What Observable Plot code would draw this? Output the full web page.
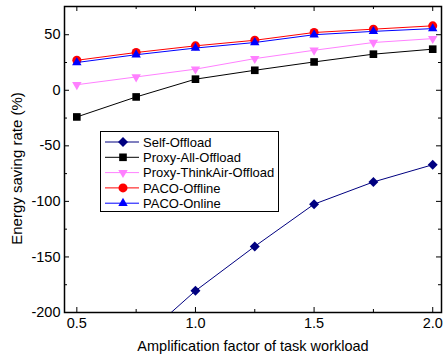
<!DOCTYPE html>
<html>
<head>
<meta charset="utf-8">
<script src="https://cdn.jsdelivr.net/npm/d3@7"></script>
<script src="https://cdn.jsdelivr.net/npm/@observablehq/plot@0.6"></script>
<style>
  html, body { margin: 0; padding: 0; background: #fff; }
  #chart { position: relative; width: 443px; height: 358px; }
</style>
</head>
<body>
<div id="chart"></div>
<script>
// Workload amplification factors (x) and energy saving rate per scheme (%)
const factors = [0.5, 0.75, 1.0, 1.25, 1.5, 1.75, 2.0];
const selfOffload = [null, -228, -180.5, -140.5, -102.5, -82.5, -67];
const proxyAllOffload = [-24, -6, 10, 18, 25.5, 32.5, 37];
const proxyThinkAirOffload = [5, 12, 19, 28.5, 36, 43, 46.5];
const pacoOffline = [27, 34, 40, 45, 52, 55, 58];
const pacoOnline = [25, 32, 38, 43, 50, 53, 55.5];

const xTicks = [0.5, 1.0, 1.5, 2.0];
const xMinorTicks = [0.75, 1.25, 1.75];
const yTicks = [-200, -150, -100, -50, 0, 50];
const yMinorTicks = [-175, -125, -75, -25, 25];

const xLabel = "Amplification factor of task workload";
const yLabel = "Energy saving rate (%)";

// Downward-pointing triangle symbol
const triangleDown = {
  draw(context, size) {
    const s3 = Math.sqrt(3);
    const y = Math.sqrt(size / (s3 * 3));
    context.moveTo(0, y * 2);
    context.lineTo(-s3 * y, -y);
    context.lineTo(s3 * y, -y);
    context.closePath();
  }
};

const series = [
  {name: "Self-Offload", values: selfOffload, color: "#000080", symbol: d3.symbolDiamond2, r: 4.5},
  {name: "Proxy-All-Offload", values: proxyAllOffload, color: "#000000", symbol: d3.symbolSquare, r: 4.3},
  {name: "Proxy-ThinkAir-Offload", values: proxyThinkAirOffload, color: "#FF80FF", symbol: triangleDown, r: 3.5},
  {name: "PACO-Offline", values: pacoOffline, color: "#FF0000", symbol: d3.symbolCircle, r: 4.5},
  {name: "PACO-Online", values: pacoOnline, color: "#0000FF", symbol: d3.symbolTriangle, r: 3.5}
];

const rows = series.map(s =>
  factors.map((x, i) => ({x, y: s.values[i]})).filter(d => d.y != null)
);

const font = "'Liberation Sans', Arial, Helvetica, sans-serif";

const marks = [];
// Inward ticks on all four sides
const innerH = 358 - 6 - 46;
const innerW = 443 - 64 - 2;
const major = 5, minor = 3;
for (const [t, len] of [[xTicks, major], [xMinorTicks, minor]]) {
  marks.push(Plot.tickX(t, {x: d => d, insetTop: innerH - len, stroke: "black", strokeWidth: 1}));
  marks.push(Plot.tickX(t, {x: d => d, insetBottom: innerH - len, stroke: "black", strokeWidth: 1}));
}
for (const [t, len] of [[yTicks, major], [yMinorTicks, minor]]) {
  marks.push(Plot.tickY(t, {y: d => d, insetRight: innerW - len, stroke: "black", strokeWidth: 1}));
  marks.push(Plot.tickY(t, {y: d => d, insetLeft: innerW - len, stroke: "black", strokeWidth: 1}));
}

series.forEach((s, k) => {
  marks.push(Plot.line(rows[k], {x: "x", y: "y", stroke: s.color, strokeWidth: 1, clip: true}));
  marks.push(Plot.dot(rows[k], {x: "x", y: "y", symbol: () => s.symbol, r: s.r, fill: s.color, stroke: "none", clip: true}));
});

marks.push(
  Plot.axisX(xTicks, {tickSize: 0, tickPadding: 5, tickFormat: d => d.toFixed(1), fontSize: 14.5, label: null, fill: "black"}),
  Plot.axisY(yTicks, {tickSize: 0, tickPadding: 4, tickFormat: d => `${d}`, fontSize: 14.5, label: null, fill: "black"}),
  Plot.text([xLabel], {text: d => d, frameAnchor: "bottom", lineAnchor: "middle", textAnchor: "middle", dy: 34, fontSize: 14.5, fill: "black"}),
  Plot.text([yLabel], {text: d => d, frameAnchor: "left", rotate: -90, textAnchor: "middle", lineAnchor: "middle", dx: -47, dy: 9, fontSize: 15, fill: "black"}),
  Plot.frame({stroke: "black", strokeWidth: 1.5})
);

const chart = Plot.plot({
  width: 443,
  height: 358,
  marginLeft: 64,
  marginRight: 2,
  marginTop: 6,
  marginBottom: 46,
  style: {fontFamily: font, fontSize: "14.5px", color: "black", background: "white"},
  x: {domain: [0.448, 2.037]},
  y: {domain: [-200, 75.4]},
  symbol: {type: "identity"},
  marks
});

// Legend box inside the plotting area
const svg = d3.select(chart);
const lg = svg.append("g").attr("font-family", font).attr("font-size", 13).attr("text-anchor", "start");
lg.append("rect")
  .attr("x", 100.5).attr("y", 131.5).attr("width", 178).attr("height", 80)
  .attr("fill", "white").attr("stroke", "black").attr("stroke-width", 1);
series.forEach((s, i) => {
  const cy = 142 + i * 15.3;
  lg.append("line").attr("x1", 105).attr("x2", 139).attr("y1", cy).attr("y2", cy)
    .attr("stroke", s.color).attr("stroke-width", 1);
  lg.append("path")
    .attr("transform", `translate(123,${cy})`)
    .attr("d", d3.symbol(s.symbol, Math.PI * s.r * s.r)())
    .attr("fill", s.color);
  lg.append("text").attr("x", 143).attr("y", cy).attr("dy", "0.36em")
    .attr("fill", "black").text(s.name);
});

document.getElementById("chart").appendChild(chart);
</script>
</body>
</html>
